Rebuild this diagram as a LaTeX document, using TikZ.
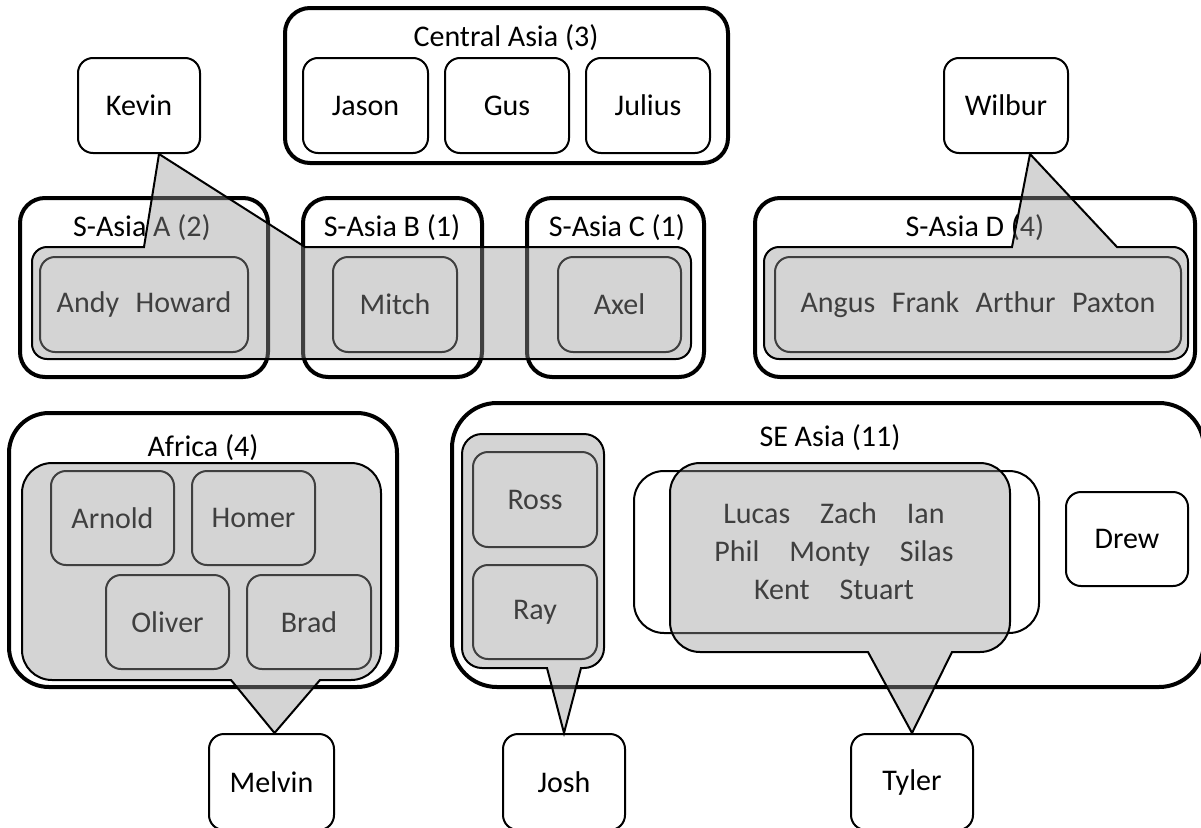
\documentclass[tikz,border=0pt]{standalone}
\usepackage{fontspec}
\setmainfont{Carlito}
\usetikzlibrary{calc}
\definecolor{cgray}{RGB}{152,152,152}
% callout with tail on top: x1 y1 x2 y2 r tailleft tailright apex
\newcommand\calTop[8]{%
\draw[callout] (#6,#2) -- (#8) -- (#7,#2) -- ({#3-#5},#2)
 .. controls ({#3-0.448*#5},#2) and (#3,{#2+0.448*#5}) .. (#3,{#2+#5})
 -- (#3,{#4-#5}) .. controls (#3,{#4-0.448*#5}) and ({#3-0.448*#5},#4) .. ({#3-#5},#4)
 -- ({#1+#5},#4) .. controls ({#1+0.448*#5},#4) and (#1,{#4-0.448*#5}) .. (#1,{#4-#5})
 -- (#1,{#2+#5}) .. controls (#1,{#2+0.448*#5}) and ({#1+0.448*#5},#2) .. ({#1+#5},#2)
 -- cycle;}
% callout with tail at bottom
\newcommand\calBot[8]{%
\draw[callout] (#7,#4) -- (#8) -- (#6,#4) -- ({#1+#5},#4)
 .. controls ({#1+0.448*#5},#4) and (#1,{#4-0.448*#5}) .. (#1,{#4-#5})
 -- (#1,{#2+#5}) .. controls (#1,{#2+0.448*#5}) and ({#1+0.448*#5},#2) .. ({#1+#5},#2)
 -- ({#3-#5},#2) .. controls ({#3-0.448*#5},#2) and (#3,{#2+0.448*#5}) .. (#3,{#2+#5})
 -- (#3,{#4-#5}) .. controls (#3,{#4-0.448*#5}) and ({#3-0.448*#5},#4) .. ({#3-#5},#4)
 -- cycle;}
\begin{document}
\begin{tikzpicture}[x=1pt,y=-1pt,
  every node/.style={font=\fontsize{30}{36}\selectfont, inner sep=0pt},
  person/.style={draw, line width=2pt, rounded corners=15pt, minimum width=124pt, minimum height=95pt},
  group/.style={draw, line width=4pt, rounded corners=25pt},
  biggroup/.style={draw, line width=4pt, rounded corners=40pt},
  title/.style={},
  callout/.style={fill=cgray, fill opacity=0.42, draw=black, line width=2pt}]
\useasboundingbox (0,0) rectangle (1201,827);
\clip (0,0) rectangle (1201,827);

% ---- top row
\node[group, minimum width=443pt, minimum height=155pt] (casia) at (506.5,85.5) {};
\node[title] (casiat) at (506,38) {Central Asia (3)};
\node[person, minimum width=125pt] (jason) at (365.5,105.5) {Jason};
\node[person] (gus) at (507,105.5) {Gus};
\node[person] (julius) at (648,105.5) {Julius};
\node[person, minimum width=122pt] (kevin) at (139,105.5) {Kevin};
\node[person] (wilbur) at (1006,105.5) {Wilbur};

% ---- S-Asia row
\node[group, minimum width=248pt, minimum height=179pt] (sa) at (144,287.5) {};
\node[group, minimum width=179pt, minimum height=179pt] (sb) at (392.5,287.5) {};
\node[group, minimum width=177pt, minimum height=179pt] (sc) at (615.5,287.5) {};
\node[group, minimum width=440pt, minimum height=179pt] (sd) at (975,287.5) {};
\node[title] (sat) at (142,228) {S-Asia A (2)};
\node[title] (sbt) at (392,228) {S-Asia B (1)};
\node[title] (sct) at (617,228) {S-Asia C (1)};
\node[title] (sdt) at (975,228) {S-Asia D (4)};
\node[person, minimum width=208pt] (andy) at (144,304.5) {Andy\hspace{0.55em}Howard};
\node[person] (mitch) at (395,304.5) {Mitch};
\node[person, minimum width=123pt] (axel) at (619.5,304.5) {Axel};
\node[person, minimum width=406pt] (angus) at (978,304.5) {Angus\hspace{0.55em}Frank\hspace{0.55em}Arthur\hspace{0.55em}Paxton};

% ---- Africa
\node[biggroup, minimum width=388pt, minimum height=274pt] (africa) at (203,550) {};
\node[title] (africat) at (203,448) {Africa (4)};
\node[person, minimum width=123pt, minimum height=94pt] (arnold) at (112.5,518) {Arnold};
\node[person, minimum width=123pt, minimum height=94pt] (homer) at (253.5,518) {Homer};
\node[person, minimum width=123pt, minimum height=94pt] (oliver) at (167.5,622) {Oliver};
\node[person, minimum height=94pt] (brad) at (309,622) {Brad};
\node[person, minimum width=125pt, minimum height=96pt] (melvin) at (271.5,782) {Melvin};

% ---- SE Asia
\node[biggroup, rounded corners=45pt, minimum width=752pt, minimum height=284pt] (seasia) at (828,545) {};
\node[title] (seasiat) at (830,438) {SE Asia (11)};
\node[person] (ross) at (535,499.5) {Ross};
\node[person, minimum height=94pt] (ray) at (535,612) {Ray};
\node[person, minimum width=122pt, minimum height=96pt] (josh) at (564,782) {Josh};
\node[draw, line width=2pt, rounded corners=30pt, minimum width=405pt, minimum height=162pt] (inner) at (836.5,552) {};
\node[align=center, font=\fontsize{30}{38}\selectfont] (names) at (834,551)
  {Lucas\hspace{1em}Zach\hspace{1em}Ian\\Phil\hspace{1em}Monty\hspace{1em}Silas\\Kent\hspace{1em}Stuart};
\node[person, minimum width=122pt, minimum height=94pt] (drew) at (1127,539) {Drew};
\node[person, minimum width=122pt, minimum height=96pt] (tyler) at (912,782) {Tyler};

% ---- callouts (translucent overlays)
\coordinate (kt) at ($(kevin.south)+(20,0)$);
\coordinate (wt) at ($(wilbur.south)+(24,0)$);
\coordinate (mt) at ($(melvin.north)+(3,0)$);
\coordinate (jt) at (josh.north);
\coordinate (tt) at (tyler.north);
\calTop{32}{247}{691}{359}{15}{144}{305}{kt}
\calTop{764}{247}{1188}{359}{15}{1012}{1117}{wt}
\calBot{22}{463}{381}{680}{30}{231}{320}{mt}
\calBot{462}{434}{604}{668}{20}{547}{581}{jt}
\calBot{670}{463}{1010}{652}{30}{868}{952}{tt}
\end{tikzpicture}
\end{document}
